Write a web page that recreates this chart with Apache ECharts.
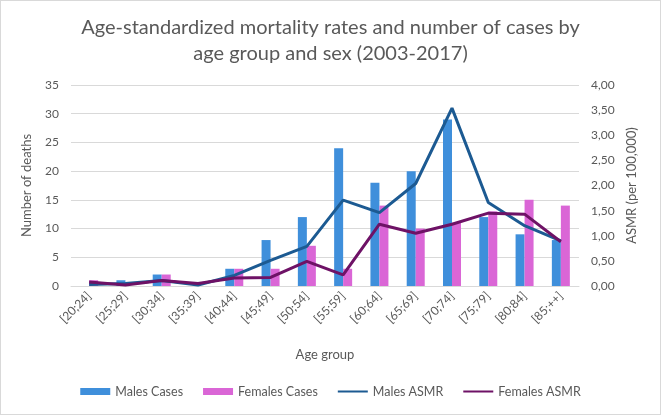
<!DOCTYPE html>
<html>
<head>
<meta charset="utf-8">
<script src="https://cdn.jsdelivr.net/npm/echarts@6/dist/echarts.min.js"></script>
<style>
  html, body { margin: 0; padding: 0; background: #fff; }
  #chart { width: 659px; height: 413px; border: 1px solid #d9d9d9; }
</style>
</head>
<body>
<div id="chart"></div>
<script>
// age groups
const ageGroups = ['[20;24]', '[25;29]', '[30;34]', '[35;39]', '[40;44]', '[45;49]', '[50;54]',
  '[55;59]', '[60;64]', '[65;69]', '[70;74]', '[75;79]', '[80;84]', '[85;++]'];

// number of deaths
const malesCases = [0, 1, 2, 0, 3, 8, 12, 24, 18, 20, 29, 12, 9, 8];
const femalesCases = [1, 0, 2, 0, 3, 3, 7, 3, 14, 10, 11, 13, 15, 14];

// ASMR per 100,000
const malesASMR = [0.03, 0.05, 0.11, 0.02, 0.21, 0.51, 0.79, 1.71, 1.46, 2.04, 3.54, 1.66, 1.20, 0.90];
const femalesASMR = [0.08, 0.02, 0.11, 0.05, 0.16, 0.17, 0.49, 0.22, 1.23, 1.05, 1.23, 1.45, 1.43, 0.88];

const txt = '#595959';
const font = 'Lato';
// thin line icon for the line series in the legend (padded to keep it thin)
const lineIcon = 'path://M0,0L0.01,0M0,2.4H32V4.6H0ZM0,7L0.01,7';

const chart = echarts.init(document.getElementById('chart'));
chart.setOption({
  animation: false,
  textStyle: { fontFamily: font },
  title: {
    text: 'Age-standardized mortality rates and number of cases by\nage group and sex (2003-2017)',
    left: 'center',
    top: 9,
    textStyle: { fontFamily: font, fontSize: 20, fontWeight: 'normal', color: txt, lineHeight: 26 }
  },
  legend: {
    bottom: 11,
    left: 'center',
    itemGap: 20,
    itemWidth: 30,
    itemHeight: 7,
    textStyle: { fontFamily: font, fontSize: 12.5, color: txt },
    data: [
      { name: 'Males Cases', icon: 'rect' },
      { name: 'Females Cases', icon: 'rect' },
      { name: 'Males ASMR', icon: lineIcon },
      { name: 'Females ASMR', icon: lineIcon }
    ]
  },
  grid: { left: 70, right: 81, top: 84, bottom: 128 },
  xAxis: {
    type: 'category',
    data: ageGroups,
    name: 'Age group',
    nameLocation: 'middle',
    nameGap: 62,
    nameTextStyle: { fontSize: 13, color: txt },
    axisLine: { lineStyle: { color: '#d9d9d9' } },
    axisTick: { show: false },
    axisLabel: { rotate: 45, color: txt, fontSize: 12, margin: 8, interval: 0 }
  },
  yAxis: [
    {
      type: 'value',
      min: 0, max: 35, interval: 5,
      name: 'Number of deaths',
      nameLocation: 'middle',
      nameGap: 38,
      nameTextStyle: { fontSize: 13, color: txt },
      axisLabel: { color: txt, fontSize: 12, margin: 12 },
      splitLine: { lineStyle: { color: '#d9d9d9' } }
    },
    {
      type: 'value',
      min: 0, max: 4, interval: 0.5,
      name: 'ASMR (per 100,000)',
      nameLocation: 'middle',
      nameGap: 46,
      nameRotate: 90,
      nameTextStyle: { fontSize: 13, color: txt },
      axisLabel: {
        color: txt, fontSize: 12, margin: 12,
        formatter: v => v.toFixed(2).replace('.', ',')
      },
      splitLine: { show: false }
    }
  ],
  series: [
    {
      name: 'Males Cases', type: 'bar', data: malesCases,
      barWidth: 9, barGap: '0%',
      itemStyle: { color: '#3f8fdb' }
    },
    {
      name: 'Females Cases', type: 'bar', data: femalesCases,
      barWidth: 9,
      itemStyle: { color: '#da66d6' }
    },
    {
      name: 'Males ASMR', type: 'line', yAxisIndex: 1, data: malesASMR,
      symbol: 'none',
      lineStyle: { color: '#1c5a92', width: 3 },
      itemStyle: { color: '#1c5a92' }
    },
    {
      name: 'Females ASMR', type: 'line', yAxisIndex: 1, data: femalesASMR,
      symbol: 'none',
      lineStyle: { color: '#6e1266', width: 3 },
      itemStyle: { color: '#6e1266' }
    }
  ]
});
</script>
</body>
</html>
